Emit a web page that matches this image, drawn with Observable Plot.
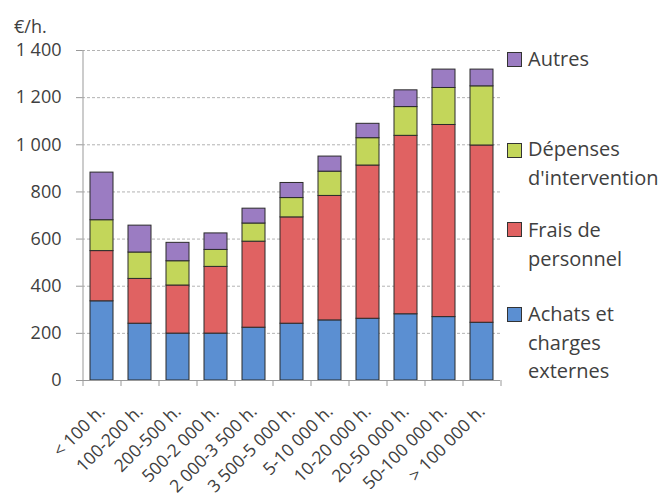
<!DOCTYPE html>
<html><head><meta charset="utf-8">
<script src="https://cdn.jsdelivr.net/npm/d3@7"></script>
<script src="https://cdn.jsdelivr.net/npm/@observablehq/plot@0.6"></script>
<style>
body{margin:0;background:#fff;font-family:"Open Sans",Lato,sans-serif;color:#404040;}
#wrap{position:relative;width:662px;height:503px;overflow:hidden;}
#wrap svg{position:absolute;left:0;top:0;}
</style></head>
<body><div id="wrap"></div>
<script>
const categories = ["< 100 h.","100-200 h.","200-500 h.","500-2 000 h.","2 000-3 500 h.","3 500-5 000 h.","5-10 000 h.","10-20 000 h.","20-50 000 h.","50-100 000 h.","> 100 000 h."];
const seriesNames = ["Achats et charges externes","Frais de personnel","Dépenses d'intervention","Autres"];
const achats   = [336,241,199,199,224,241,255,262,281,269,245];
const frais    = [213,190,204,283,365,451,528,650,757,815,752];
const depenses = [131,112,103, 72, 77, 82,103,116,122,157,251];
const autres   = [202,114, 78, 70, 63, 64, 64, 61, 71, 78, 71];
const colors = ["#5b8fd2","#e06262","#c3d65a","#9b7cc2"];
const yTicks = [0,200,400,600,800,1000,1200,1400];
const unitLabel = "€/h.";
const legendLines = [["Autres"],["Dépenses","d'intervention"],["Frais de","personnel"],["Achats et","charges","externes"]];
const legendColors = [colors[3],colors[2],colors[1],colors[0]];

const values = [achats, frais, depenses, autres];
const data = [];
categories.forEach((c,i)=>values.forEach((v,s)=>data.push({cat:c, series:seriesNames[s], value:v[i]})));

const fmt = d => d3.format(",")(d).replace(",", " ");
const FONT = "'Open Sans', Lato, sans-serif";

const chart = Plot.plot({
  width: 662, height: 503,
  marginLeft: 82, marginRight: 162, marginTop: 50, marginBottom: 123,
  style: {fontFamily: FONT, color: "#404040", background: "transparent"},
  x: {domain: categories, paddingInner: 0.4, paddingOuter: 0.2, label: null},
  y: {domain: [0,1400], label: null},
  color: {domain: seriesNames, range: colors},
  marks: [
    Plot.gridY(yTicks, {stroke: "#9a9a9a", strokeOpacity: 0.75, strokeDasharray: "3,2"}),
    Plot.axisY(yTicks, {tickSize: 6, tickPadding: 15, tickFormat: fmt, fontSize: 18, stroke: "#999", fill: "#404040", label: null}),
    Plot.barY(data, {x: "cat", y: "value", fill: "series", stroke: "#2b2b2b", strokeWidth: 1}),
    Plot.ruleY([0], {stroke: "#999"}),
    Plot.axisX(categories, {tickSize: 6, text: null, dx: -19, stroke: "#999", label: null}),
    Plot.axisX([categories[categories.length-1]], {tickSize: 6, text: null, dx: 19, stroke: "#999", label: null}),
    Plot.axisX(categories, {tickSize: 0, tickPadding: 28, tickRotate: -45, fontSize: 17.5, fill: "#404040", label: null}),
    Plot.ruleX([categories[0]], {dx: -19, stroke: "#999"})
  ]
});
const wrap = document.getElementById("wrap");
wrap.appendChild(chart);

// overlay: unit label and legend
const ov = d3.select(wrap).append("svg").attr("width", 662).attr("height", 503)
  .style("font-family", FONT).style("fill", "#404040");
ov.append("text").attr("x", 14).attr("y", 33).attr("font-size", 18).text(unitLabel);

const squareTops = [52, 143, 222, 307];
const firstBaselines = [66, 156, 237, 321];
const lineStep = 28.7;
legendLines.forEach((lines,i)=>{
  ov.append("rect").attr("x", 507.5).attr("y", squareTops[i] + 0.5).attr("width", 14).attr("height", 14)
    .attr("fill", legendColors[i]).attr("stroke", "#333").attr("stroke-width", 1);
  lines.forEach((ln,j)=>{
    ov.append("text").attr("x", 528).attr("y", firstBaselines[i] + j*lineStep)
      .attr("font-size", 20).text(ln);
  });
});
</script></body></html>
